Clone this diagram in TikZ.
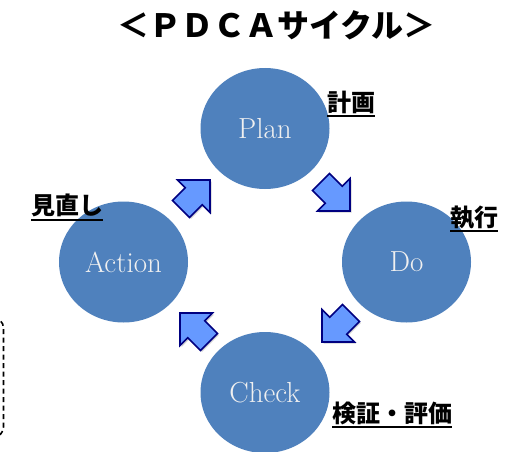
\documentclass[tikz,border=0pt]{standalone}
\usepackage{fontspec}
\newfontfamily\jp{Noto Sans CJK JP}
\usetikzlibrary{shapes.geometric}
\definecolor{circblue}{HTML}{4F81BD}
\definecolor{arrfill}{HTML}{6699FF}
\definecolor{arrline}{HTML}{000080}
\tikzset{
  phase/.style={ellipse, fill=circblue, minimum width=129pt, minimum height=121pt,
    inner sep=0pt, text=white!94!black, font=\fontsize{29}{32}\selectfont},
  jplabel/.style={anchor=base west, inner sep=0pt, font=\jp\bfseries\fontsize{24}{27}\selectfont},
  uline/.style={line width=2pt},
  barrow/.pic={
    \draw[fill=arrfill, draw=arrline, line width=1.6pt, line join=miter]
      (0,0) -- (-23,-23) -- (-23,-12) -- (-41,-12) -- (-41,12)
      -- (-23,12) -- (-23,23) -- cycle;
  },
  barrowshadow/.pic={
    \fill[black!18]
      (0,0) -- (-23,-23) -- (-23,-12) -- (-41,-12) -- (-41,12)
      -- (-23,12) -- (-23,23) -- cycle;
  }
}
\begin{document}
\begin{tikzpicture}[x=1pt,y=-1pt]
  \clip (0,0) rectangle (511,452);
  \fill[white] (0,0) rectangle (511,452);

  % title
  \node[font=\jp\bfseries\fontsize{32}{36}\selectfont] (title) at (276.5,25) {＜ＰＤＣＡサイクル＞};

  % dashed box at the left edge
  \draw[line width=1.6pt, dash pattern=on 5pt off 3.5pt, rounded corners=10pt]
    (-40,318) rectangle (3.5,437);

  % phases
  \node[phase] (plan)   at (265,128.5)   {Plan};
  \node[phase] (do)     at (406.5,262)   {Do};
  \node[phase] (check)  at (265,392.5)   {Check};
  \node[phase] (action) at (123.5,262)   {Action};

  % block arrows
  \pic[rotate=45]   at (211.5,181.5) {barrowshadow};
  \pic[rotate=45]   at (210,180)     {barrow};
  \pic[rotate=-45]  at (351.5,212.5) {barrowshadow};
  \pic[rotate=-45]  at (350,211)     {barrow};
  \pic[rotate=-135] at (323.5,343.5) {barrowshadow};
  \pic[rotate=-135] at (322,342)     {barrow};
  \pic[rotate=135]  at (181.5,314.5) {barrowshadow};
  \pic[rotate=135]  at (180,313)     {barrow};

  % labels
  \node[jplabel] (lplan) at (327,111) {計画};
  \draw[uline] ([yshift=-5pt]lplan.base west) -- ([yshift=-5pt]lplan.base east);
  \node[jplabel] (ldo) at (450,226) {執行};
  \draw[uline] ([yshift=-5pt]ldo.base west) -- ([yshift=-5pt]ldo.base east);
  \node[jplabel] (laction) at (31,214.5) {見直し};
  \draw[uline] ([yshift=-5pt]laction.base west) -- ([yshift=-5pt]laction.base east);
  \node[jplabel] (lcheck) at (332,422) {検証・評価};
  \draw[uline] ([yshift=-5pt]lcheck.base west) -- ([yshift=-5pt]lcheck.base east);
\end{tikzpicture}
\end{document}
